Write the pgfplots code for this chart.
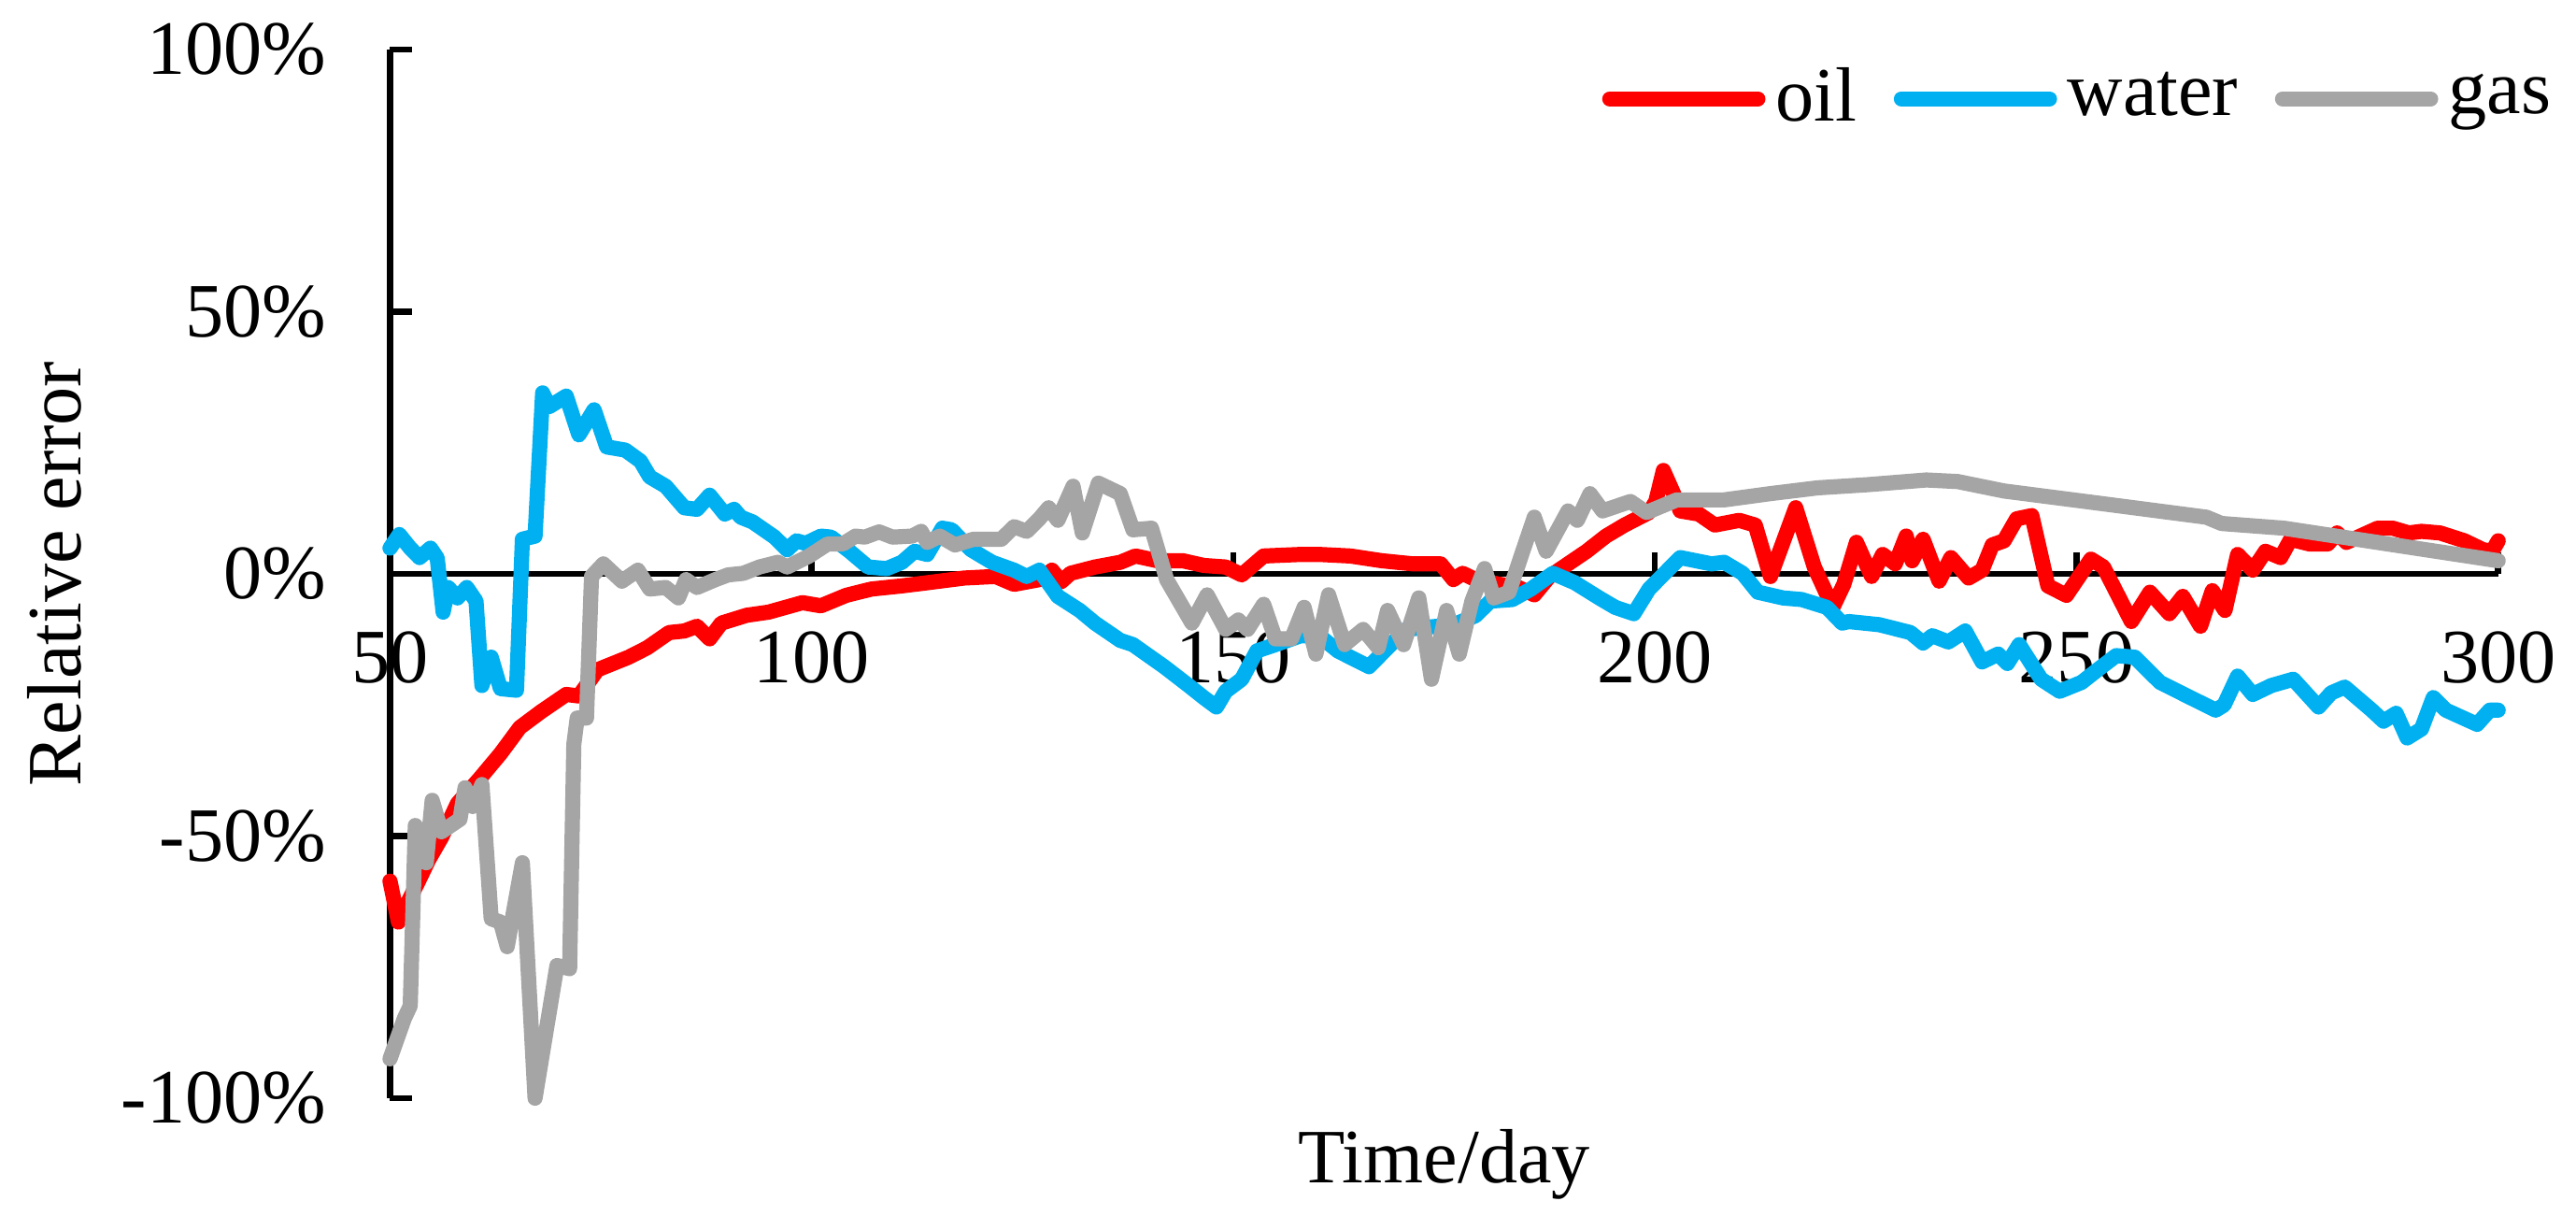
\documentclass[border=0pt]{standalone}
\usepackage{fontspec}
\setmainfont{Liberation Serif}
\usepackage{pgfplots}
\pgfplotsset{compat=1.18}
\definecolor{oilred}{RGB}{255,0,0}
\definecolor{waterblue}{RGB}{0,176,240}
\definecolor{gasgray}{RGB}{165,165,165}
\newcommand{\chartfont}{\fontsize{12.7}{15}\selectfont}

\begin{document}
\begin{tikzpicture}
\begin{axis}[
    set layers,
    scale only axis,
    width=348.3pt, height=173.2pt,
    xmin=50, xmax=300, ymin=-100, ymax=100,
    axis y line=left, axis x line=middle,
    axis line style={-, line width=1pt, black},
    xtick={50,100,...,300},
    ytick={-100,-50,0,50,100},
    yticklabels={-100\%,-50\%,0\%,50\%,100\%},
    tick align=inside,
    major tick length=3.6pt,
    tick style={line width=1pt, black},
    hide obscured x ticks=false, hide obscured y ticks=false,
    /pgf/number format/assume math mode=true,
    tick label style={font=\chartfont},
    label style={font=\chartfont},
    xticklabel style={yshift=-6pt},
    yticklabel style={xshift=-7pt},
    xlabel={Time/day}, ylabel={Relative error},
    xlabel style={at={(rel axis cs:0.5,-0.081)}, anchor=base},
    ylabel style={at={(rel axis cs:-0.136,0.5)}, anchor=south},
    clip=false,
    legend columns=-1,
    legend style={at={(rel axis cs:1.0305,0.953)}, anchor=east, draw=none, fill=none,
        inner sep=0pt, font=\chartfont,
        nodes={inner xsep=1.7pt, inner ysep=2pt},
        /tikz/every even column/.append style={column sep=4.4pt}},
    legend image code/.code={\draw[#1, line cap=round] (0cm,0cm) -- (0.86cm,0cm);},
    every axis plot/.append style={line width=2.5pt, line join=round, line cap=round},
]

% oil
\addplot[oilred] coordinates {
(50.0,-58.6) (51.0,-66.4) (51.7,-64.0) (53.2,-59.2) (54.6,-54.5) (56.1,-50.3) (58.0,-43.8)
(60.6,-39.1) (63.1,-34.3) (65.4,-29.3) (67.9,-26.3) (70.9,-23.0) (72.4,-23.3) (74.6,-18.3)
(78.3,-15.9) (80.5,-14.1) (83.1,-11.2) (84.9,-10.9) (86.4,-10.0) (87.9,-12.4) (89.3,-9.4)
(92.3,-7.9) (94.9,-7.3) (98.9,-5.5) (101.1,-6.1) (104.1,-4.1) (107.1,-2.9) (110.7,-2.3)
(113.7,-1.7) (118.1,-0.8) (121.8,-0.5) (124.0,-2.0) (127.0,-1.1) (128.5,0.7) (129.6,-1.5)
(130.7,0.1) (133.6,1.3) (136.6,2.2) (138.4,3.4) (141.0,2.5) (144.0,2.5) (146.5,1.6)
(149.1,1.3) (151.0,-0.2) (153.6,3.4) (158.0,3.7) (160.2,3.7) (163.9,3.4) (167.6,2.5)
(171.3,1.9) (174.6,1.9) (176.1,-1.1) (177.2,0.1) (178.7,-1.1) (181.6,-2.0) (183.8,-2.6)
(185.7,-4.0) (187.5,-0.5) (189.7,1.9) (191.9,4.3) (194.2,7.2) (196.4,9.3) (199.3,11.7)
(200.1,13.8) (201.0,19.7) (202.3,15.0) (203.0,12.0) (205.2,11.4) (207.1,9.3) (210.0,10.2)
(211.9,9.3) (213.7,-0.5) (216.7,12.6) (218.9,1.3) (221.1,-6.4) (222.4,-2.0) (223.9,6.0)
(225.7,-0.5) (227.0,3.7) (228.5,1.9) (229.8,7.2) (230.5,2.5) (231.8,6.6) (233.7,-1.4)
(235.1,3.1) (237.2,-0.8) (238.8,0.7) (240.0,5.5) (241.4,6.3) (242.9,10.5) (244.7,11.1)
(246.6,-2.3) (248.8,-4.1) (251.7,2.8) (253.2,1.3) (256.5,-9.1) (258.7,-3.5) (261.0,-7.6)
(262.6,-4.3) (264.7,-10.0) (266.1,-3.2) (267.6,-7.0) (269.1,3.7) (270.9,0.7) (272.4,4.3)
(274.2,3.1) (275.4,6.6) (277.6,5.7) (279.8,5.7) (280.9,7.8) (282.0,6.0) (285.7,8.7)
(287.5,8.7) (289.4,7.8) (290.9,8.1) (293.1,7.8) (296.0,6.3) (298.2,4.6) (299.3,4.3)
(300.0,6.3)
};
\addlegendentry{oil}

% water
\addplot[waterblue] coordinates {
(50.0,4.9) (51.1,7.5) (52.4,4.9) (53.5,3.1) (54.8,4.9) (55.6,3.0) (56.3,-7.3) (56.9,-2.6)
(58.0,-4.6) (59.1,-2.6) (60.2,-5.2) (60.9,-21.3) (62.0,-15.9) (63.1,-21.9) (65.0,-22.2)
(65.7,6.6) (67.2,7.2) (68.1,34.5) (68.9,31.9) (70.9,33.9) (72.4,26.5) (74.2,31.3)
(75.7,24.2) (77.9,23.6) (79.7,21.5) (80.8,18.5) (82.7,16.7) (84.9,12.6) (86.4,12.3)
(87.9,15.0) (89.7,11.4) (90.8,12.3) (91.6,10.8) (93.0,9.9) (95.6,7.0) (97.1,4.6)
(98.2,6.3) (99.3,5.8) (101.1,7.2) (102.3,7.0) (104.5,4.3) (106.7,1.3) (108.9,1.0)
(110.7,2.2) (112.2,4.3) (113.7,3.7) (115.5,8.7) (116.6,8.4) (118.9,4.6) (121.4,2.2)
(124.0,0.7) (125.5,-0.5) (127.0,0.7) (129.2,-4.3) (131.8,-7.0) (133.6,-9.4) (136.6,-12.7)
(138.1,-13.5) (141.8,-17.7) (144.7,-21.3) (146.5,-23.6) (148.0,-25.4) (149.1,-22.4)
(151.0,-20.1) (152.8,-14.7) (155.0,-13.5) (158.0,-11.8) (160.2,-11.8) (162.4,-14.7)
(164.6,-16.5) (166.1,-17.7) (168.3,-14.1) (170.5,-10.6) (174.2,-10.0) (175.7,-10.0)
(178.7,-8.0) (180.5,-5.2) (183.1,-4.9) (185.3,-2.9) (187.9,0.1) (190.5,-1.7) (193.4,-4.6)
(195.3,-6.4) (197.5,-7.6) (199.3,-2.9) (203.0,3.1) (206.7,1.9) (208.2,2.2) (210.4,0.1)
(212.2,-3.5) (215.2,-4.6) (217.4,-4.9) (220.4,-6.4) (222.2,-9.4) (223.0,-9.1) (226.6,-9.7)
(230.3,-11.2) (231.8,-13.2) (232.9,-11.8) (234.8,-13.0) (236.8,-10.9) (238.8,-16.8)
(240.7,-15.3) (241.8,-17.1) (243.2,-13.5) (245.8,-20.1) (248.0,-22.4) (250.6,-20.7)
(252.5,-18.3) (254.7,-15.6) (256.9,-15.9) (259.9,-20.7) (263.5,-23.6) (266.5,-26.0)
(267.5,-25.0) (269.1,-19.5) (270.9,-23.0) (273.1,-21.3) (275.7,-20.1) (278.7,-25.4)
(280.2,-22.7) (281.8,-21.6) (285.0,-26.0) (286.4,-28.1) (287.9,-26.6) (289.2,-31.3)
(290.9,-29.6) (292.3,-23.6) (293.8,-26.0) (297.5,-28.7) (299.0,-26.0) (300.0,-26.0)
};
\addlegendentry{water}

% gas
\addplot[gasgray] coordinates {
(50.0,-92.5) (51.7,-84.8) (52.4,-82.4) (53.0,-48.0) (54.3,-55.1) (55.0,-43.2) (56.1,-49.2)
(58.3,-46.8) (58.9,-40.8) (59.8,-44.4) (60.9,-40.2) (62.0,-65.8) (63.1,-66.4) (63.9,-71.1)
(65.7,-55.1) (67.2,-100.0) (69.8,-74.7) (71.3,-75.3) (71.8,-32.5) (72.2,-27.5) (73.3,-27.5)
(73.9,-0.5) (75.3,1.9) (77.5,-1.4) (79.4,0.7) (80.8,-2.9) (82.7,-2.6) (84.2,-4.6)
(85.1,-1.1) (86.4,-2.6) (88.6,-1.1) (90.1,-0.2) (91.9,0.1) (93.8,1.3) (96.0,2.2)
(97.1,1.3) (99.7,3.4) (101.9,5.7) (103.7,5.7) (105.2,7.2) (106.3,7.0) (108.0,8.0)
(109.6,7.0) (111.9,7.2) (113.0,8.1) (113.7,6.0) (115.2,7.2) (117.0,5.5) (119.2,6.6)
(122.5,6.6) (124.0,9.0) (125.5,8.1) (127.0,10.5) (128.1,12.6) (129.2,10.2) (131.0,16.7)
(132.1,7.8) (134.0,17.3) (136.6,15.3) (138.1,8.4) (140.3,8.7) (142.1,-1.1) (145.1,-9.4)
(146.9,-4.0) (149.1,-10.6) (150.6,-8.8) (151.7,-10.6) (153.6,-5.8) (155.0,-12.4)
(156.9,-12.4) (158.4,-6.4) (159.8,-15.3) (161.3,-4.0) (163.2,-13.5) (165.4,-10.6)
(167.2,-14.1) (168.3,-7.0) (170.2,-13.5) (172.0,-4.6) (173.5,-20.1) (175.3,-7.0)
(176.8,-15.3) (178.3,-5.2) (179.8,1.0) (180.9,-4.6) (182.7,-3.5) (184.2,3.7) (185.7,10.8)
(187.1,4.3) (189.7,12.0) (190.8,10.2) (192.3,15.3) (193.8,12.0) (197.1,13.8) (199.0,11.7)
(202.6,14.1) (208.2,14.1) (213.7,15.3) (219.3,16.4) (225.2,17.0) (232.2,17.9) (235.9,17.6)
(241.4,15.8) (252.5,13.5) (265.4,10.8) (267.2,9.6) (274.6,8.7) (300.0,2.5)
};
\addlegendentry{gas}

% page extent
\path (rel axis cs:-0.185,-0.1256) rectangle (rel axis cs:1.0359,1.0472);
\end{axis}
\end{tikzpicture}
\end{document}
